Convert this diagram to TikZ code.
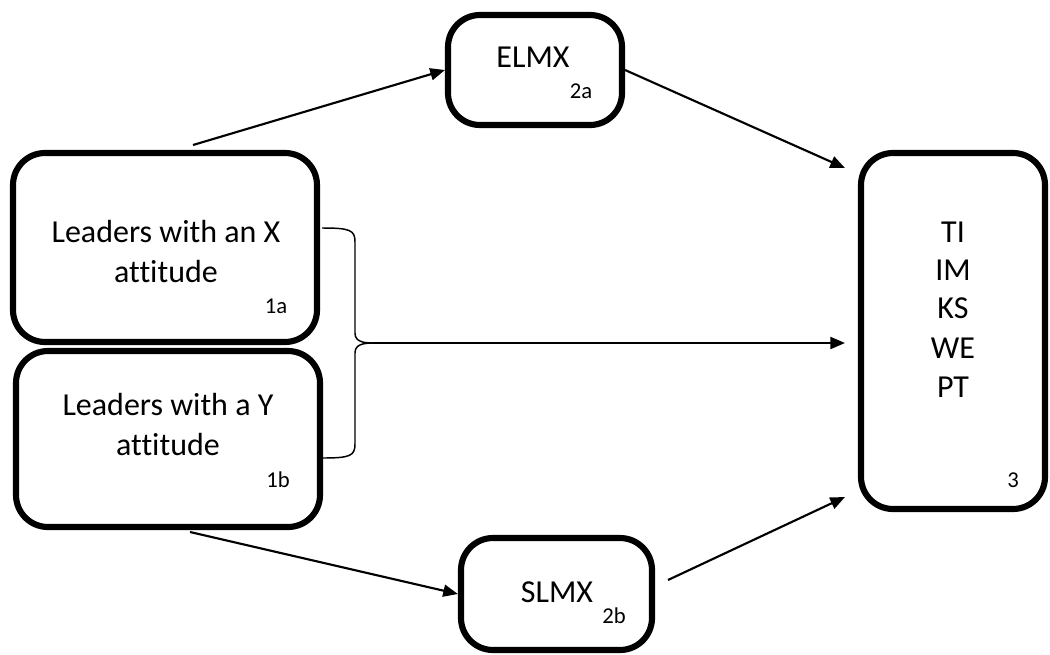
\documentclass[tikz,border=0pt]{standalone}
\usepackage{fontspec}
\setmainfont{Carlito}[Ligatures=NoCommon]
\usetikzlibrary{arrows.meta}
\begin{document}
\begin{tikzpicture}[x=0.75pt,y=-0.75pt,
  box/.style={draw=black,line width=4.6pt,rounded corners=24pt,fill=white,inner sep=0pt},
  big/.style={font=\fontsize{24}{29}\selectfont,inner sep=0pt,anchor=base},
  tag/.style={font=\fontsize{17}{20}\selectfont,inner sep=0pt,anchor=base},
  link/.style={line width=1.6pt,-{Triangle[length=11pt,width=9pt]}},
  bracket/.style={line width=1.1pt}]
\useasboundingbox (0,0) rectangle (1050,654);

% boxes
\node[box,minimum width=228pt,minimum height=141.75pt] (lx) at (165,247.5) {};
\node[box,minimum width=228pt,minimum height=132pt] (ly) at (168,439) {};
\node[box,minimum width=130.5pt,minimum height=82.5pt] (elmx) at (535,70) {};
\node[box,minimum width=143.25pt,minimum height=84pt] (slmx) at (556.5,594) {};
\node[box,minimum width=138pt,minimum height=267pt] (out) at (953,331) {};

% texts
\node[big] (lx1) at (166,242) {Leaders with an X};
\node[big] (lx2) at (166,282) {attitude};
\node[tag] (lxt) at (276,313) {1a};
\node[big] (ly1) at (168,415) {Leaders with a Y};
\node[big] (ly2) at (168,455) {attitude};
\node[tag] (lyt) at (278,487) {1b};
\node[big] (el) at (533,67) {ELMX};
\node[tag] (elt) at (581,98) {2a};
\node[big] (sl) at (557,602) {SLMX};
\node[tag] (slt) at (614,623) {2b};
\node[big] (o1) at (953,242) {TI};
\node[big] (o2) at (953,280) {IM};
\node[big] (o3) at (953,318) {KS};
\node[big] (o4) at (953,358) {WE};
\node[big] (o5) at (953,397) {PT};
\node[tag] (ot) at (1013,487) {3};

% brace joining the two leader boxes
\coordinate (btip) at (373,343);
\draw[bracket] (322,228) .. controls (350,228) and (355,230) .. (355,242)
  -- (355,333) .. controls (355,341) and (362,343) .. (btip);
\draw[bracket] (322,458) .. controls (350,458) and (355,456) .. (355,444)
  -- (355,353) .. controls (355,345) and (362,343) .. (btip);

% connectors
\coordinate (s1) at (193,145);
\coordinate (s2) at (190,532);
\coordinate (s3) at (668,580);
\coordinate (e1) at (845,168);
\coordinate (e2) at (845,343);
\coordinate (e3) at (845,497);
\draw[link] (s1) -- (elmx.west);
\draw[link] (elmx.east) -- (e1);
\draw[link] (btip) -- (e2);
\draw[link] (s2) -- (slmx.west);
\draw[link] (s3) -- (e3);
\end{tikzpicture}
\end{document}
